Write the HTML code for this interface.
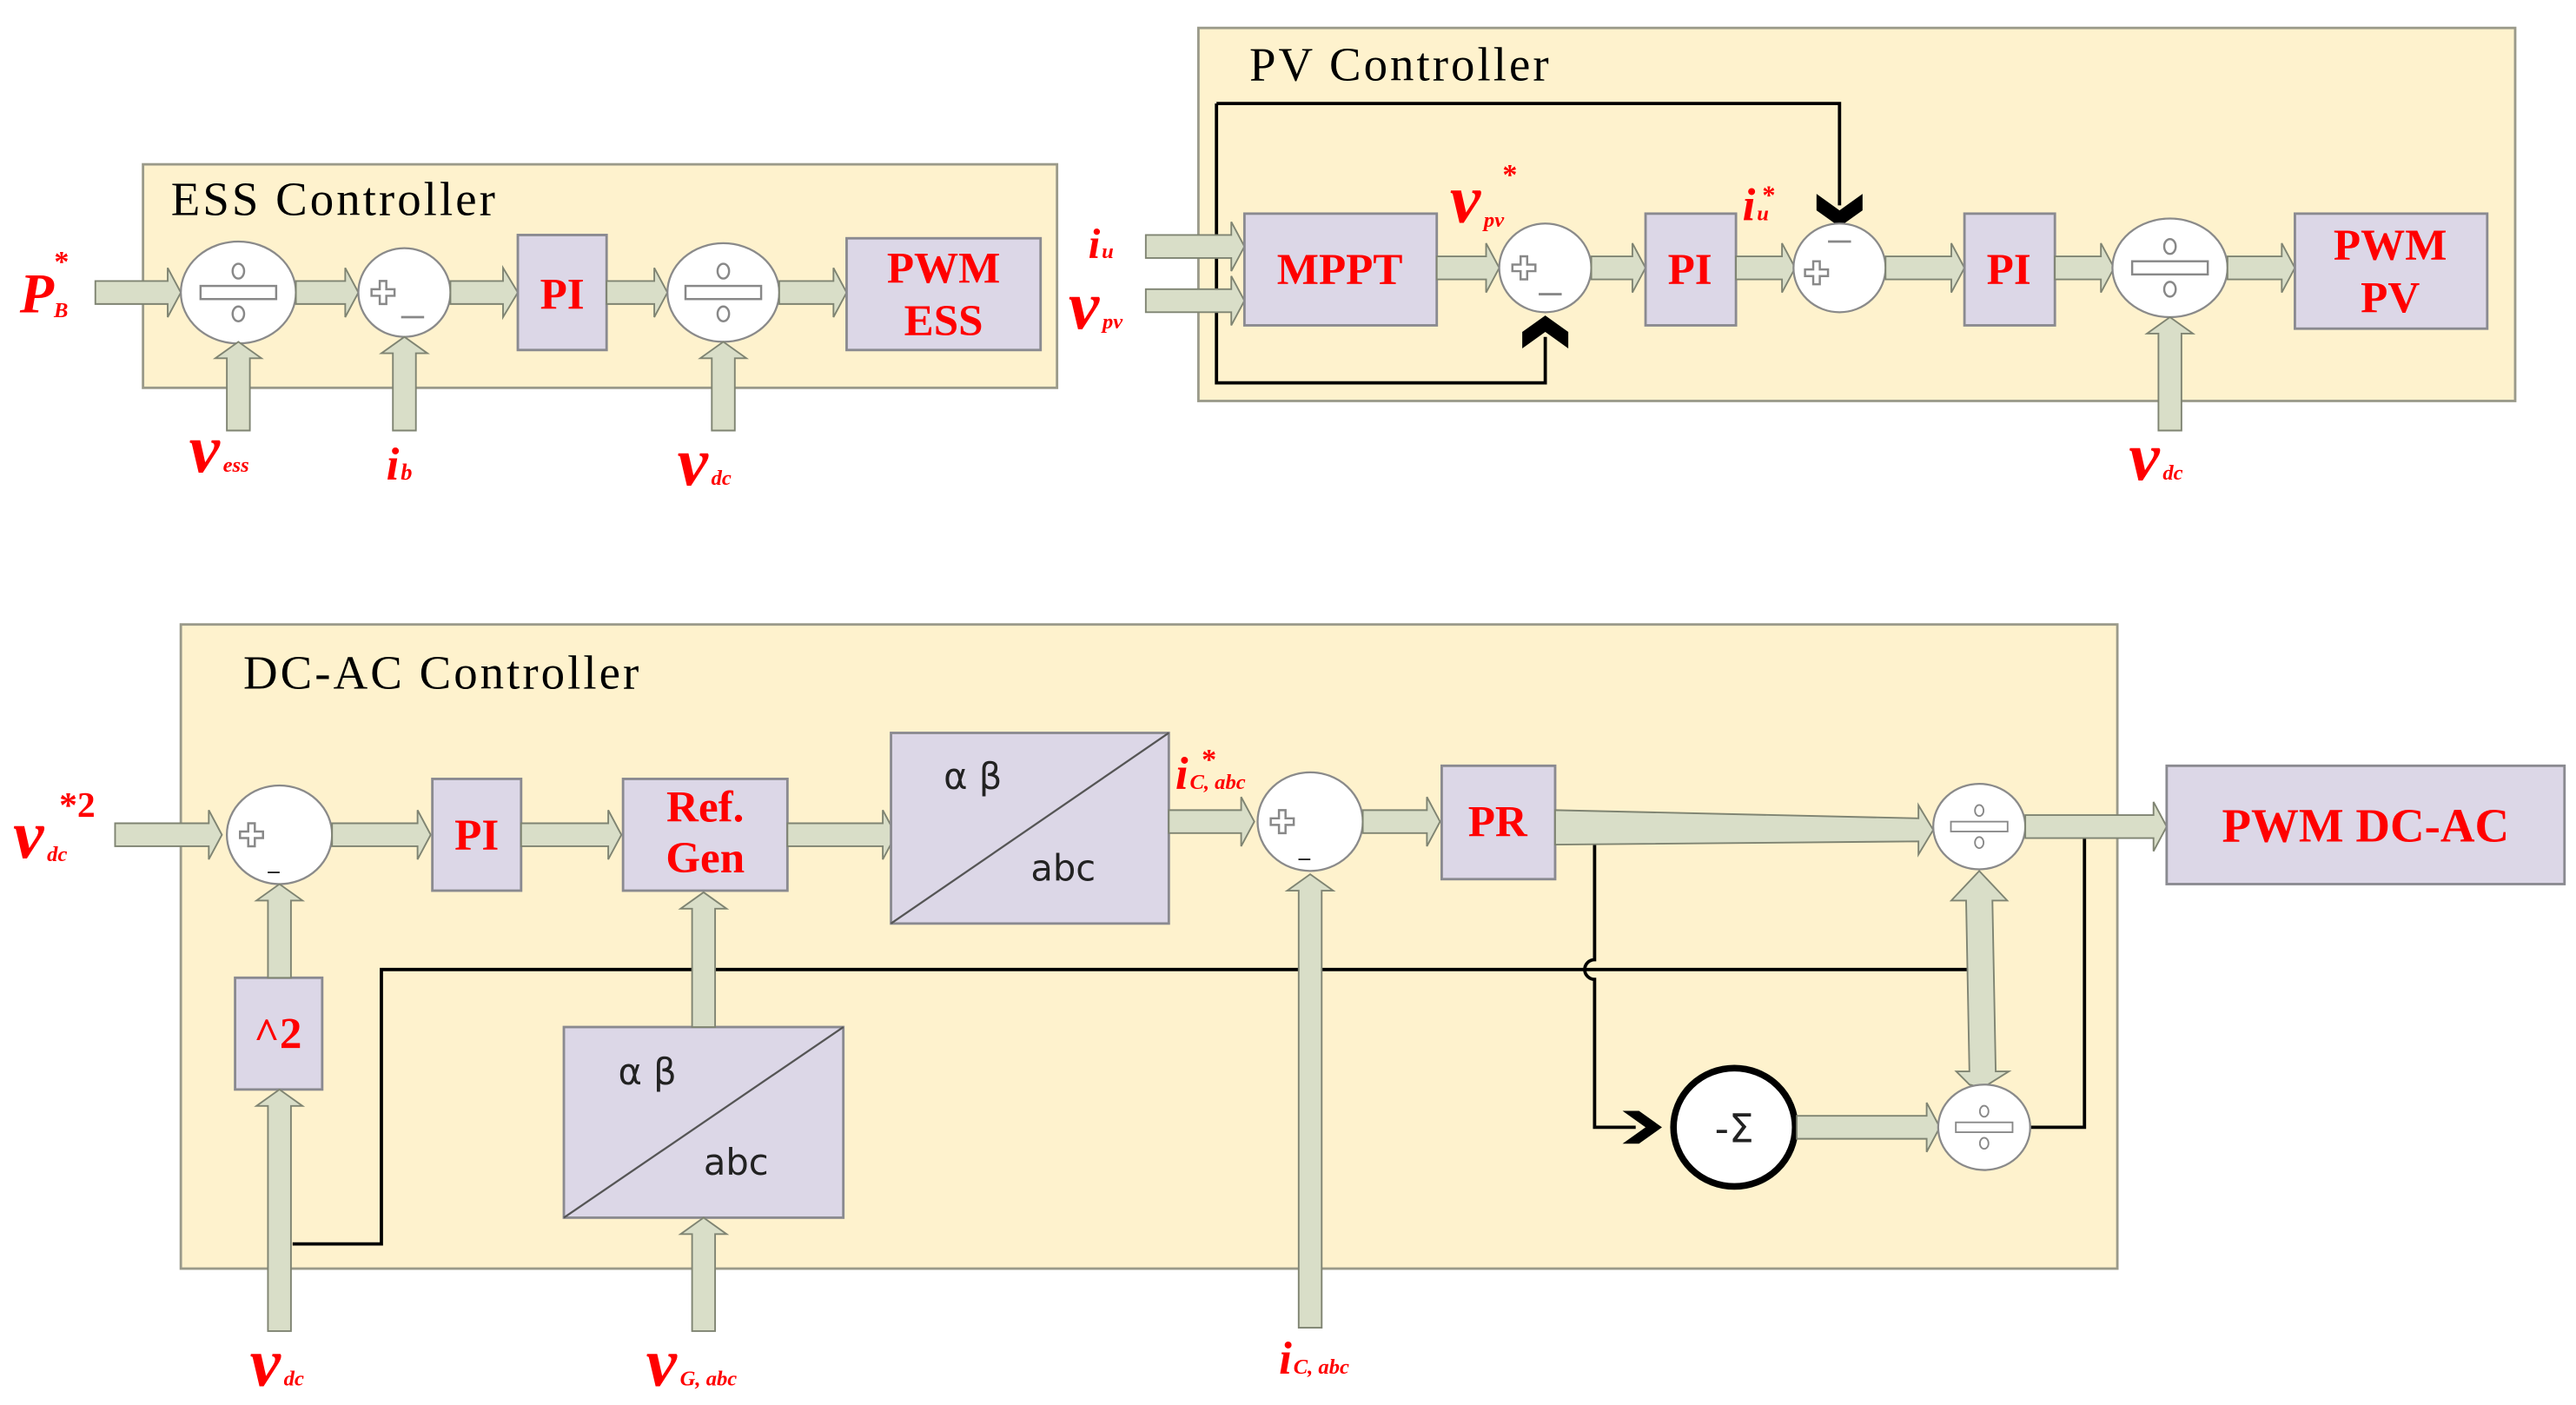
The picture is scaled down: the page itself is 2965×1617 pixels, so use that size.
<!DOCTYPE html>
<html><head><meta charset="utf-8"><style>html,body{margin:0;padding:0;background:#fff}svg{display:block}</style></head>
<body>
<svg width="2965" height="1617" viewBox="0 0 1567 855" preserveAspectRatio="none" xmlns="http://www.w3.org/2000/svg">
<defs>
<style>
.bx{fill:#fef2cd;stroke:#9a9a8a;stroke-width:1.5}
.bl{fill:#dcd7e7;stroke:#8a8a90;stroke-width:1.5}
.ar{fill:#d9dec8;stroke:#7f8472;stroke-width:1}
.ci{fill:#fff;stroke:#8a8a8a;stroke-width:1.2}
.t{font-family:"Liberation Serif",serif;fill:#000;letter-spacing:1.6px}
.r{font-family:"Liberation Serif",serif;fill:#f00;font-weight:bold}
.ri{font-family:"Liberation Serif",serif;fill:#f00;font-style:italic;font-weight:bold}
.ln{fill:none;stroke:#000;stroke-width:2}
.pl{fill:none;stroke:#888;stroke-width:1.3}
.ss{font-family:"DejaVu Sans",sans-serif;fill:#222}
</style>
<g id="div"><rect x="-23" y="-4" width="46" height="8" fill="#fff" stroke="#888" stroke-width="1.3"/><ellipse cx="0" cy="-13" rx="3.5" ry="4.5" class="pl"/><ellipse cx="0" cy="13" rx="3.5" ry="4.5" class="pl"/></g>
<g id="plus"><path d="M-2,-7h4v5h5v4h-5v5h-4v-5h-5v-4h5z" class="pl"/></g>
</defs>

<!-- ESS -->
<rect class="bx" x="87" y="100" width="556" height="136"/>
<text class="t" x="104" y="131" font-size="29">ESS Controller</text>
<polygon class="ar" points="58,171 102,171 102,163 110,178 102,193 102,185 58,185"/>
<ellipse class="ci" cx="145" cy="178" rx="35" ry="31"/>
<use href="#div" x="145" y="178"/>
<polygon class="ar" points="180,171 210,171 210,163 218,178 210,193 210,185 180,185"/>
<ellipse class="ci" cx="246" cy="178" rx="28" ry="27"/>
<use href="#plus" x="233" y="178"/><line x1="244" y1="193" x2="258" y2="193" stroke="#888" stroke-width="1.5"/>
<polygon class="ar" points="274,171 306,171 306,163 315,178 306,193 306,185 274,185"/>
<rect class="bl" x="315" y="143" width="54" height="70"/>
<text class="r" x="342" y="188" font-size="27" text-anchor="middle">PI</text>
<polygon class="ar" points="369,171 398,171 398,163 406,178 398,193 398,185 369,185"/>
<ellipse class="ci" cx="440" cy="178" rx="34" ry="30"/>
<use href="#div" x="440" y="178"/>
<polygon class="ar" points="474,171 507,171 507,163 515,178 507,193 507,185 474,185"/>
<rect class="bl" x="515" y="145" width="118" height="68"/>
<text class="r" x="574" y="172" font-size="27" text-anchor="middle">PWM</text>
<text class="r" x="574" y="204" font-size="27" text-anchor="middle">ESS</text>
<polygon class="ar" points="138,262 138,218 131,218 145,208 159,218 152,218 152,262"/>
<polygon class="ar" points="239,262 239,215 232,215 246,205 260,215 253,215 253,262"/>
<polygon class="ar" points="433,262 433,218 426,218 440,208 454,218 447,218 447,262"/>
<text class="ri" x="12" y="190" font-size="34">P<tspan font-size="13" dy="3">B</tspan></text><text class="r" x="33" y="165" font-size="18">*</text>
<text class="ri" x="115" y="287" font-size="42">v<tspan font-size="13" dx="2">ess</tspan></text>
<text class="ri" x="235" y="292" font-size="28">i<tspan font-size="14" dx="1">b</tspan></text>
<text class="ri" x="412" y="295" font-size="42">v<tspan font-size="13" dx="2">dc</tspan></text>

<!-- PV -->
<rect class="bx" x="729" y="17" width="801" height="227"/>
<text class="t" x="760" y="49" font-size="29">PV Controller</text>
<polyline class="ln" points="740,63 1119,63 1119,125"/>
<polygon points="1105,118 1119,128 1133,118 1133,128 1119,138 1105,128" fill="#000"/>
<polyline class="ln" points="740,63 740,233 940,233 940,205"/>
<polygon points="926,212 940,202 954,212 954,202 940,192 926,202" fill="#000"/>
<polygon class="ar" points="697,143 749,143 749,135 757,150 749,165 749,157 697,157"/>
<polygon class="ar" points="697,176 749,176 749,168 757,183 749,198 749,190 697,190"/>
<text class="ri" x="662" y="157" font-size="26">i<tspan font-size="13" dx="1">u</tspan></text>
<text class="ri" x="650" y="200" font-size="42">v<tspan font-size="13" dx="2">pv</tspan></text>
<rect class="bl" x="757" y="130" width="117" height="68"/>
<text class="r" x="815" y="173" font-size="27" text-anchor="middle">MPPT</text>
<polygon class="ar" points="874,156 904,156 904,148 912,163 904,178 904,170 874,170"/>
<ellipse class="ci" cx="940" cy="163" rx="28" ry="27"/>
<use href="#plus" x="927" y="163"/><line x1="936" y1="179" x2="950" y2="179" stroke="#888" stroke-width="1.5"/>
<text class="ri" x="882" y="135" font-size="42">v<tspan font-size="13" dx="2" dy="3">pv</tspan></text><text class="r" x="914" y="112" font-size="18">*</text>
<polygon class="ar" points="968,156 993,156 993,148 1001,163 993,178 993,170 968,170"/>
<rect class="bl" x="1001" y="130" width="55" height="68"/>
<text class="r" x="1028" y="173" font-size="27" text-anchor="middle">PI</text>
<text class="ri" x="1060" y="134" font-size="28">i<tspan font-size="13" dx="1">u</tspan></text><text class="r" x="1072" y="124" font-size="16">*</text>
<polygon class="ar" points="1056,156 1084,156 1084,148 1092,163 1084,178 1084,170 1056,170"/>
<ellipse class="ci" cx="1119" cy="163" rx="28" ry="27"/>
<use href="#plus" x="1105" y="166"/><line x1="1112" y1="147" x2="1126" y2="147" stroke="#888" stroke-width="1.5"/>
<polygon class="ar" points="1147,156 1187,156 1187,148 1195,163 1187,178 1187,170 1147,170"/>
<rect class="bl" x="1195" y="130" width="55" height="68"/>
<text class="r" x="1222" y="173" font-size="27" text-anchor="middle">PI</text>
<polygon class="ar" points="1250,156 1278,156 1278,148 1286,163 1278,178 1278,170 1250,170"/>
<ellipse class="ci" cx="1320" cy="163" rx="35" ry="30"/>
<use href="#div" x="1320" y="163"/>
<polygon class="ar" points="1355,156 1388,156 1388,148 1396,163 1388,178 1388,170 1355,170"/>
<rect class="bl" x="1396" y="130" width="117" height="70"/>
<text class="r" x="1454" y="158" font-size="27" text-anchor="middle">PWM</text>
<text class="r" x="1454" y="190" font-size="27" text-anchor="middle">PV</text>
<polygon class="ar" points="1313,262 1313,203 1306,203 1320,193 1334,203 1327,203 1327,262"/>
<text class="ri" x="1295" y="292" font-size="42">v<tspan font-size="13" dx="2">dc</tspan></text>

<!-- DC-AC -->
<rect class="bx" x="110" y="380" width="1178" height="392"/>
<text class="t" x="148" y="419" font-size="29">DC-AC Controller</text>
<polyline class="ln" points="178,757 232,757 232,590 1198,590"/>
<path class="ln" d="M970,510 V584 A6,6 0 0 0 970,596 V686 H995"/>
<polygon points="987,676 1001,686 987,696 997,696 1011,686 997,676" fill="#000"/>
<polyline class="ln" points="1235,686 1268,686 1268,510"/>
<polygon class="ar" points="70,501 127,501 127,493 135,508 127,523 127,515 70,515"/>
<text class="ri" x="8" y="522" font-size="42">v<tspan font-size="13" dx="2" dy="2">dc</tspan></text><text class="r" x="36" y="497" font-size="22">*2</text>
<ellipse class="ci" cx="170" cy="508" rx="32" ry="30"/>
<use href="#plus" x="153" y="508"/><text class="ss" x="163" y="528" font-size="14">_</text>
<polygon class="ar" points="202,501 254,501 254,493 262,508 254,523 254,515 202,515"/>
<rect class="bl" x="263" y="474" width="54" height="68"/>
<text class="r" x="290" y="517" font-size="27" text-anchor="middle">PI</text>
<polygon class="ar" points="317,501 370,501 370,493 378,508 370,523 370,515 317,515"/>
<rect class="bl" x="379" y="474" width="100" height="68"/>
<text class="r" x="429" y="500" font-size="27" text-anchor="middle">Ref.</text>
<text class="r" x="429" y="531" font-size="27" text-anchor="middle">Gen</text>
<polygon class="ar" points="479,501 537,501 537,493 545,508 537,523 537,515 479,515"/>
<rect class="bl" x="542" y="446" width="169" height="116"/>
<line x1="542" y1="562" x2="711" y2="446" stroke="#555" stroke-width="1.2"/>
<text class="ss" x="574" y="480" font-size="22">α β</text><text class="ss" x="627" y="536" font-size="22">abc</text>
<polygon class="ar" points="711,493 755,493 755,485 763,500 755,515 755,507 711,507"/>
<text class="ri" x="715" y="480" font-size="28">i<tspan font-size="13" dx="1">C, abc</tspan></text><text class="r" x="731" y="468" font-size="18">*</text>
<ellipse class="ci" cx="797" cy="500" rx="32" ry="30"/>
<use href="#plus" x="780" y="500"/><text class="ss" x="790" y="520" font-size="14">_</text>
<polygon class="ar" points="829,493 868,493 868,485 876,500 868,515 868,507 829,507"/>
<rect class="bl" x="877" y="466" width="69" height="69"/>
<text class="r" x="911" y="509" font-size="27" text-anchor="middle">PR</text>
<polygon class="ar" points="946,493 1167,498 1167,490 1176,505 1167,520 1167,512 946,514"/>
<polygon class="ar" points="1198,660 1190,652 1198,652 1196,548 1187,548 1204,530 1221,548 1212,548 1214,652 1222,652 1206,662"/>
<ellipse class="ci" cx="1204" cy="503" rx="28" ry="26"/>
<use href="#div" x="1204" y="503" transform="translate(1204,503) scale(0.75) translate(-1204,-503)"/>
<polygon class="ar" points="1232,496 1310,496 1310,488 1318,503 1310,518 1310,510 1232,510"/>
<rect class="bl" x="1318" y="466" width="242" height="72"/>
<text class="r" x="1439" y="512" font-size="29" text-anchor="middle">PWM DC-AC</text>
<ellipse cx="1055" cy="686" rx="37" ry="36" fill="#fff" stroke="#000" stroke-width="4"/>
<text class="ss" x="1055" y="695" font-size="24" text-anchor="middle">-Σ</text>
<polygon class="ar" points="1093,679 1172,679 1172,671 1180,686 1172,701 1172,693 1093,693"/>
<ellipse class="ci" cx="1207" cy="686" rx="28" ry="26"/>
<use href="#div" x="1207" y="686" transform="translate(1207,686) scale(0.75) translate(-1207,-686)"/>
<rect class="bl" x="143" y="595" width="53" height="68"/>
<text class="r" x="169" y="638" font-size="27" text-anchor="middle">^2</text>
<polygon class="ar" points="163,595 163,548 156,548 170,538 184,548 177,548 177,595"/>
<polygon class="ar" points="163,810 163,673 156,673 170,663 184,673 177,673 177,810"/>
<rect class="bl" x="343" y="625" width="170" height="116"/>
<line x1="343" y1="741" x2="513" y2="625" stroke="#555" stroke-width="1.2"/>
<text class="ss" x="376" y="660" font-size="22">α β</text><text class="ss" x="428" y="715" font-size="22">abc</text>
<polygon class="ar" points="421,625 421,553 414,553 428,543 442,553 435,553 435,625"/>
<polygon class="ar" points="421,810 421,751 414,751 428,741 442,751 435,751 435,810"/>
<polygon class="ar" points="790,808 790,542 783,542 797,532 811,542 804,542 804,808"/>
<text class="ri" x="152" y="843" font-size="42">v<tspan font-size="13" dx="2">dc</tspan></text>
<text class="ri" x="393" y="843" font-size="42">v<tspan font-size="13" dx="2">G, abc</tspan></text>
<text class="ri" x="778" y="836" font-size="28">i<tspan font-size="13" dx="1">C, abc</tspan></text>
</svg>
</body></html>
